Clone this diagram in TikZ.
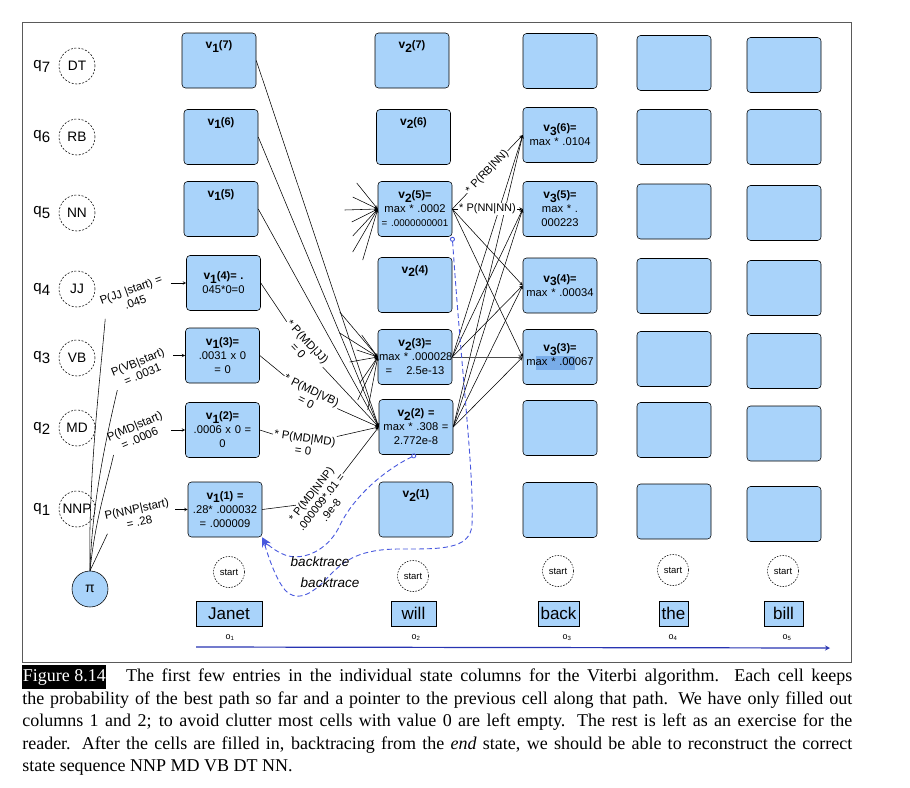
\documentclass[tikz,border=0pt]{standalone}
\usepackage{fontspec}
\setmainfont{Liberation Serif}
\setsansfont{Liberation Sans}
\usepackage{xcolor}
\usepackage{tikz}
\usetikzlibrary{arrows,arrows.meta,positioning}

\definecolor{cellblue}{RGB}{169,211,250}
\definecolor{selblue}{RGB}{120,172,232}
\definecolor{btblue}{RGB}{72,88,222}
\definecolor{axisblue}{RGB}{40,52,178}
\definecolor{framegray}{RGB}{90,90,90}

\newcommand{\vcell}[3]{{\bfseries\fontsize{12}{14}\selectfont v\raisebox{-3.5pt}{#1}\fontsize{11}{13}\selectfont(#2)#3}}
\newcommand{\qlab}[1]{{\fontsize{15}{18}\selectfont q\raisebox{-4pt}{#1}}}

\begin{document}
\begin{tikzpicture}[x=1pt,y=-1pt,line width=0.55pt,font=\sffamily,
  cell/.style={draw, rounded corners=3.5pt, fill=cellblue, text width=72pt, minimum height=55pt, inner sep=1pt, align=center, font=\sffamily\fontsize{11.2}{14}\selectfont},
  toptext/.style={label={[anchor=north,inner sep=8pt]north:#1}},
  statec/.style={draw, circle, dash pattern=on 2pt off 1.6pt, minimum size=36pt, inner sep=0pt, font=\sffamily\fontsize{13.7}{16}\selectfont},
  startc/.style={draw, circle, dash pattern=on 1.6pt off 1.3pt, minimum size=31pt, inner sep=0pt, font=\sffamily\fontsize{9.5}{11}\selectfont},
  word/.style={draw, fill=cellblue, minimum height=25pt, inner sep=0pt, font=\sffamily\fontsize{17}{20}\selectfont},
  prob/.style={inner sep=1pt, align=center, font=\sffamily\fontsize{11.5}{13}\selectfont},
  bt/.style={btblue, line width=0.9pt, dash pattern=on 5pt off 3pt},
  btlab/.style={font=\sffamily\itshape\fontsize{13.5}{16}\selectfont},
  obs/.style={font=\sffamily\fontsize{9}{10}\selectfont}]
\useasboundingbox (0,0) rectangle (910,787);
\draw[framegray, line width=0.8pt] (22,22) rectangle (851,662);

% states
\node[statec] (dt) at (77,66) {DT};
\node[statec] (rb) at (77,137) {RB};
\node[statec] (nn) at (77,213) {NN};
\node[statec] (jj) at (77,289) {JJ};
\node[statec] (vb) at (77,358) {VB};
\node[statec] (md) at (77,428) {MD};
\node[statec] (nnp) at (77,509) {NNP};
\node[left=5pt of dt] (q7) {\qlab{7}};
\node[left=5pt of rb] (q6) {\qlab{6}};
\node[left=5pt of nn] (q5) {\qlab{5}};
\node[left=5pt of jj] (q4) {\qlab{4}};
\node[left=5pt of vb] (q3) {\qlab{3}};
\node[left=5pt of md] (q2) {\qlab{2}};
\node[left=5pt of nnp] (q1) {\qlab{1}};
\node[draw, circle, fill=cellblue, minimum size=36pt, inner sep=0pt, font=\sffamily\fontsize{14}{16}\selectfont] (pi) at (90,589) {π};

% column 1
\node[cell, toptext={\vcell{1}{7}{}}] (v17) at (219,60.5) {};
\node[cell, toptext={\vcell{1}{6}{}}] (v16) at (221,137) {};
\node[cell, toptext={\vcell{1}{5}{}}] (v15) at (221,209) {};
\node[cell] (v14) at (223.5,283) {\vcell{1}{4}{= .}\\045*0=0};
\node[cell] (v13) at (222.5,355.5) {\vcell{1}{3}{=}\\.0031 x 0\\= 0};
\node[cell] (v12) at (222.5,430) {\vcell{1}{2}{=}\\.0006 x 0 =\\0};
\node[cell] (v11) at (225,509.5) {\vcell{1}{1}{ =}\\\mbox{.28* .000032}\\= .000009};

% column 2
\node[cell, toptext={\vcell{2}{7}{}}] (v27) at (412,60.5) {};
\node[cell, toptext={\vcell{2}{6}{}}] (v26) at (413.5,137) {};
\node[cell] (v25) at (415,209) {\vcell{2}{5}{=}\\max * .0002\\{\fontsize{9.8}{11}\selectfont = .0000000001}};
\node[cell, toptext={\vcell{2}{4}{}}] (v24) at (415,285) {};
\node[cell] (v23) at (415,357) {\vcell{2}{3}{=}\\\mbox{max * .000028}\\=\hspace{14pt}2.5e-13};
\node[cell] (v22) at (416,427) {\vcell{2}{2}{ =}\\\mbox{max * .308 =}\\2.772e-8};
\node[cell, toptext={\vcell{2}{1}{}}] (v21) at (416,509.5) {};

% column 3
\node[cell] (v37) at (560,61) {};
\node[cell] (v36) at (560,135) {\vcell{3}{6}{=}\\max * .0104};
\node[cell] (v35) at (560,209) {\vcell{3}{5}{=}\\max * .\\000223};
\node[cell] (v34) at (560,285.5) {\vcell{3}{4}{=}\\\mbox{max * .00034}};
\node[cell] (v33) at (560,357) {\vcell{3}{3}{=}\\\mbox{m{\fboxsep=0pt\colorbox{selblue}{\strut ax * .00}}067}};
\node[cell] (v32) at (560,428) {};
\node[cell] (v31) at (560,510) {};

% columns 4 and 5
\node[cell] (v47) at (674,63) {};
\node[cell] (v46) at (674,137) {};
\node[cell] (v45) at (674,211.5) {};
\node[cell] (v44) at (674,286) {};
\node[cell] (v43) at (674,359) {};
\node[cell] (v42) at (674,430) {};
\node[cell] (v41) at (674,511.5) {};
\node[cell] (v57) at (784,65) {};
\node[cell] (v56) at (784,137) {};
\node[cell] (v55) at (784,213) {};
\node[cell] (v54) at (784,288) {};
\node[cell] (v53) at (784,361) {};
\node[cell] (v52) at (784,433.5) {};
\node[cell] (v51) at (784,514) {};

% start probabilities
\node[prob, rotate=20] (pjj) at (133,296) {P(JJ |start) =\\.045};
\node[prob, rotate=22] (pvb) at (140,368) {P(VB|start)\\= .0031};
\node[prob, rotate=23] (pmd) at (137,432) {P(MD|start)\\= .0006};
\node[prob, rotate=12] (pnnp) at (138,515) {P(NNP|start)\\= .28};
\draw (pi.north) .. controls (88,480) and (100,380) .. (pjj.south west);
\draw (pi.north) .. controls (92,500) and (108,430) .. (pvb.south west);
\draw (pi.north) .. controls (95,520) and (108,480) .. (pmd.south west);
\draw (pi.north) -- (pnnp.south west);
\draw[-stealth, shorten <=6pt] (pjj.east |- v14.west) -- (v14.west);
\draw[-stealth, shorten <=6pt] (pvb.east |- v13.west) -- (v13.west);
\draw[-stealth, shorten <=6pt] (pmd.east |- v12.west) -- (v12.west);
\draw[-stealth, shorten <=4pt] (pnnp.east |- v11.west) -- (v11.west);

% column 1 to v2(2)
\node[prob, rotate=-47] (tjj) at (303,346) {* P(MD|JJ)\\= 0};
\node[prob, rotate=-26] (tvb) at (309,396) {* P(MD|VB)\\= 0};
\node[prob, rotate=-8] (tmd) at (304,444) {* P(MD|MD)\\= 0};
\node[prob, rotate=52, font=\sffamily\fontsize{11}{12.5}\selectfont] (tnnp) at (321,502) {* P(MD|NNP)\\.000009*.01 =\\.9e-8};
\draw[-stealth] (v17.east) -- (v22.west);
\draw[-stealth] (v16.east) -- (v22.west);
\draw[-stealth] (v15.east) -- (v22.west);
\draw (v14.east) -- (tjj);
\draw[-stealth] (tjj) -- (v22.west);
\draw (v13.east) -- (tvb);
\draw[-stealth] (tvb) -- (v22.west);
\draw (v12.east) -- (tmd);
\draw[-stealth] (tmd) -- (v22.west);
\draw (v11.east) -- (tnnp);
\draw[-stealth] (tnnp) -- (v22.west);

% other incoming
\draw (v25.west) edge[stealth-] +(-21,-26) edge[stealth-] +(-25,-12) edge[stealth-] +(-33,1) edge[stealth-] +(-26,13)
  edge[stealth-] +(-25,27) edge[stealth-] +(-25,43) edge[stealth-] +(-15,51);
\draw (v23.west) edge[stealth-] +(-16,-22) edge[stealth-] +(-21,-7) edge[stealth-] +(-28,5) edge[stealth-] +(-38,-45)
  edge[stealth-] +(-38,-24) edge[stealth-] +(-18,26) edge[stealth-] +(-20,43) edge[stealth-] +(-10,53);

% column 2 to column 3
\draw[-stealth] (v22.east) -- (v36.west);
\draw[-stealth] (v22.east) -- (v35.west);
\draw[-stealth] (v22.east) -- (v34.west);
\draw[-stealth] (v22.east) -- (v33.west);
\draw[-stealth] (v23.east) -- (v36.west);
\draw[-stealth] (v23.east) -- (v35.west);
\draw[-stealth] (v23.east) -- (v34.west);
\draw[-stealth, line width=1pt, black!70] (v23.east) -- (v33.west);
\draw[-stealth] (v25.east) -- (v34.west);
\draw[-stealth] (v25.east) -- (v33.west);
\draw[-stealth] (v25.east) -- node[prob, sloped, fill=white, font=\sffamily\fontsize{11}{13}\selectfont] (trb) {* P(RB|NN)} (v36.west);
\draw[-stealth] (v25.east) -- node[prob, fill=white, font=\sffamily\fontsize{11}{13}\selectfont] (tnn) {* P(NN|NN)} (v35.west);

% backtrace
\draw[bt, {Circle[open,length=5pt]}-{Stealth[length=10pt,width=7pt]}] (v25.south east) .. controls (462,380) and (474,470) .. (472,525)
  .. controls (470,550) and (440,549) .. (400,549) .. controls (360,549) and (345,560) .. (330,575)
  .. controls (315,592) and (298,604) .. (285,590) .. controls (275,578) and (268,555) .. (v11.south east);
\draw[bt, {Circle[open,length=5pt]}-{Stealth[length=10pt,width=7pt]}] (v22.south) .. controls (385,470) and (355,495) .. (340,525)
  .. controls (330,548) and (305,562) .. (285,555) .. controls (275,551) and (268,545) .. (v11.south east);
\node[btlab] (bt1) at (320,562) {backtrace};
\node[btlab] (bt2) at (330,583) {backtrace};

% observations
\node[startc] (s1) at (229,572) {start};
\node[startc] (s2) at (413,576) {start};
\node[startc] (s3) at (558,571) {start};
\node[startc] (s4) at (673,570) {start};
\node[startc] (s5) at (783,571) {start};
\node[word, minimum width=66pt] (janet) at (229,613.5) {Janet};
\node[word, minimum width=45pt] (will) at (413.5,613.5) {will};
\node[word, minimum width=41pt] (back) at (558.5,613.5) {back};
\node[word, minimum width=29pt] (the) at (673.5,613.5) {the};
\node[word, minimum width=39pt] (bill) at (783.5,613.5) {bill};
\node[obs] (o1) at (230,638) {o\textsubscript{1}};
\node[obs] (o2) at (416,638) {o\textsubscript{2}};
\node[obs] (o3) at (567,638) {o\textsubscript{3}};
\node[obs] (o4) at (673,638) {o\textsubscript{4}};
\node[obs] (o5) at (787,638) {o\textsubscript{5}};
\coordinate (ax0) at (196,647);
\coordinate (ax1) at (830,648);
\draw[axisblue, line width=1.2pt, -stealth] (ax0) -- (ax1);

% caption
\node[anchor=north west, inner sep=0pt, text width=830pt, align=justify, font=\rmfamily\fontsize{18}{22.5}\selectfont] (caption) at (22,665)
  {{\fboxsep=0.5pt\colorbox{black}{\strut\textcolor{white}{Figure 8.14}}}\hspace{1.1em}The first few entries in the individual state columns for the Viterbi algorithm. Each cell keeps\linebreak
  the probability of the best path so far and a pointer to the previous cell along that path. We have only filled out\linebreak
  columns 1 and 2; to avoid clutter most cells with value 0 are left empty. The rest is left as an exercise for the\linebreak
  reader. After the cells are filled in, backtracing from the \emph{end} state, we should be able to reconstruct the correct\linebreak
  state sequence NNP MD VB DT NN.};
\end{tikzpicture}
\end{document}
